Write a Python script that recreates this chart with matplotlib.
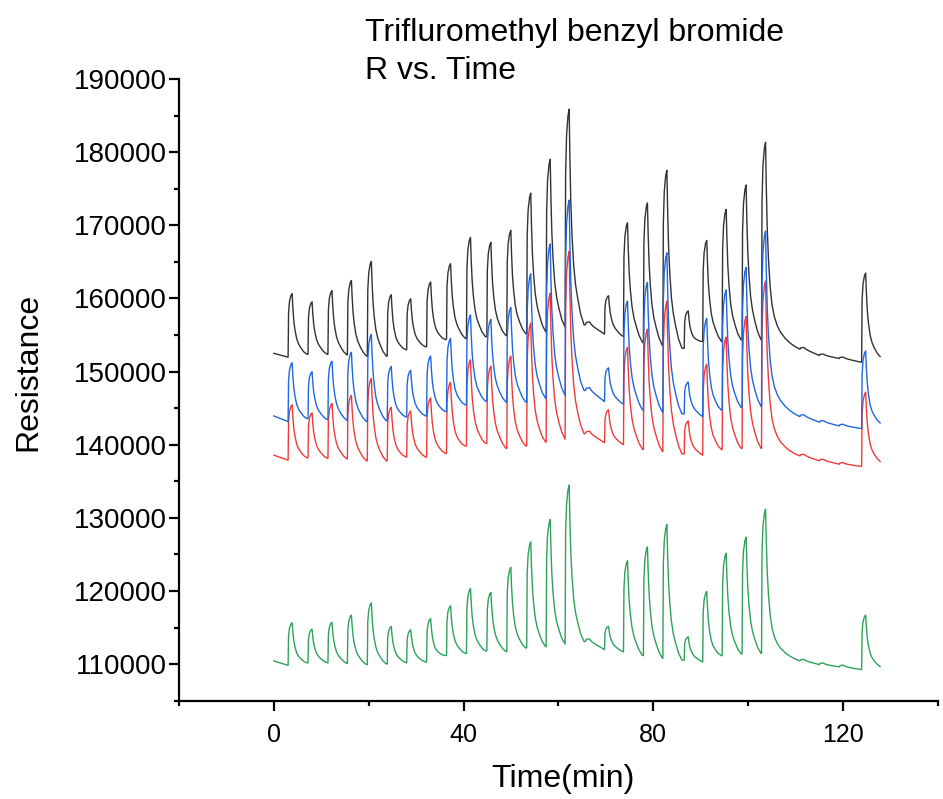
import matplotlib
matplotlib.use("Agg")
import matplotlib.pyplot as plt
from matplotlib.ticker import MultipleLocator, FormatStrFormatter

plt.rcParams['font.family'] = ['Liberation Sans', 'DejaVu Sans']

# pulse onset times (min)
onsets = [3.0, 7.2, 11.4, 15.5, 19.7, 23.9, 28.0, 32.2, 36.4, 40.6,
          44.9, 49.1, 53.3, 57.4, 61.4, 65.7, 69.7, 73.7, 77.9, 82.0,
          86.5, 90.4, 94.5, 98.7, 102.8, 110.9, 115.0, 119.2, 123.9]
t_end = 127.8

# response shape of one pulse (minutes after onset, fraction of peak height)
shape_dt = [0.0, 0.1, 0.3, 0.6, 0.85, 1.0, 1.2, 1.45, 1.8, 2.2, 2.7, 3.3, 4.0]
shape_frac = [0.0, 0.70, 0.88, 0.97, 1.0, 0.78, 0.57, 0.42, 0.28, 0.19, 0.12, 0.05, 0.0]
# same shape with the slow tail seen when no pulse follows for a while
long_dt = [0.0, 0.1, 0.3, 0.6, 0.85, 1.0, 1.2, 1.45, 1.8, 2.2, 2.7, 3.3, 4.0, 5.0, 6.0, 7.0, 8.0]
long_frac = [0.0, 0.70, 0.88, 0.97, 1.0, 0.78, 0.57, 0.42, 0.28, 0.19, 0.13, 0.09, 0.06, 0.035, 0.018, 0.007, 0.0]

# black trace
black_start = 152500
black_troughs = [151970, 152380, 152380, 152280, 152125, 152125, 153000, 153400, 154425, 154530,
                 154785, 154940, 155195, 155450, 156065, 156410, 155130, 154770, 153950, 153540,
                 153180, 154105, 154105, 154360, 154360, 153080, 152210, 151800, 151290]
black_peaks = [160665, 159540, 161070, 162455, 165060, 160510, 159950, 162250, 164755, 168335,
               167670, 169305, 174420, 179025, 185880, 156800, 160380, 170350, 173065, 177525,
               158310, 167940, 172190, 175525, 181365, 153300, 152400, 151980, 163480]
black_end = 152055

# blue trace
blue_start = 143940
blue_troughs = [143175, 143585, 143430, 143330, 143175, 143280, 143790, 143940, 144555, 145475,
                145985, 145835, 145835, 146345, 146755, 147445, 145905, 145550, 144730, 144470,
                144215, 143855, 144730, 145140, 145245, 143855, 143090, 142580, 142220]
blue_peaks = [151205, 149975, 151410, 152635, 155090, 150690, 150180, 152125, 154530, 157750,
              157135, 158770, 163375, 167465, 173450, 147800, 150520, 159640, 162200, 166250,
              148570, 157280, 161175, 164250, 169220, 144100, 143300, 142800, 152825]
blue_end = 142985

# red trace
red_start = 138570
red_troughs = [137905, 138215, 138165, 138060, 137805, 137805, 138320, 138320, 138830, 139850,
               140210, 139495, 139850, 140365, 140770, 141550, 140270, 140015, 139350, 139090,
               138735, 138580, 139350, 139505, 139505, 138475, 137810, 137350, 137045]
red_peaks = [145475, 144350, 145630, 146755, 149055, 145120, 144610, 146395, 148545, 151615,
             150745, 152125, 156625, 160715, 166445, 141850, 144780, 153335, 155795, 159640,
             143245, 151030, 154720, 157540, 162405, 138700, 138020, 137550, 147190]
red_end = 137710

# green trace
green_start = 110445
green_troughs = [109830, 110190, 110190, 110085, 109935, 110035, 110190, 110290, 111210, 111470,
                 111825, 111720, 112235, 112385, 112745, 113115, 111985, 111680, 111165, 110810,
                 110550, 110295, 111165, 111420, 111475, 110450, 109935, 109630, 109270]
green_peaks = [115665, 114800, 115715, 116690, 118375, 115155, 114695, 116230, 117970, 120325,
               119815, 123240, 126720, 129785, 134490, 113450, 115165, 124130, 126030, 129100,
               113730, 119930, 125155, 127360, 131200, 110650, 110150, 109850, 116700]
green_end = 109680


def build_trace(start, troughs, peaks, end):
    t = [0.0]
    v = [start]
    bounds = onsets + [t_end]
    after = troughs[1:] + [end]
    for i, t0 in enumerate(onsets):
        span = bounds[i + 1] - t0
        if span > 6:
            dts, fracs = long_dt, long_frac
        else:
            dts, fracs = shape_dt, shape_frac
        for dt, fr in zip(dts, fracs):
            if dt >= span:
                break
            base = troughs[i] + (after[i] - troughs[i]) * dt / span
            t.append(t0 + dt)
            v.append(base + (peaks[i] - base) * fr)
    t.append(t_end)
    v.append(end)
    return t, v


fig = plt.figure(figsize=(9.43, 7.99), dpi=100)
ax = fig.add_axes([0.1898, 0.123, 0.8049, 0.778])

series = [
    (black_start, black_troughs, black_peaks, black_end, '#333333'),
    (red_start, red_troughs, red_peaks, red_end, '#f03a3a'),
    (blue_start, blue_troughs, blue_peaks, blue_end, '#1f66e0'),
    (green_start, green_troughs, green_peaks, green_end, '#2ea25a'),
]
for s, tr, pk, e, c in series:
    t, v = build_trace(s, tr, pk, e)
    ax.plot(t, v, color=c, lw=1.0)

ax.set_xlim(-20, 140)
ax.set_ylim(105000, 190000)
ax.xaxis.set_major_locator(MultipleLocator(40))
ax.xaxis.set_minor_locator(MultipleLocator(20))
ax.yaxis.set_major_locator(MultipleLocator(10000))
ax.yaxis.set_minor_locator(MultipleLocator(5000))
ax.yaxis.set_major_formatter(FormatStrFormatter('%d'))

for side in ['top', 'right']:
    ax.spines[side].set_visible(False)
for side in ['left', 'bottom']:
    ax.spines[side].set_linewidth(1.6)
ax.tick_params(which='major', length=7, width=1.6)
ax.tick_params(which='minor', length=3.5, width=1.6)
ax.tick_params(axis='x', labelsize=18, pad=9)
ax.tick_params(axis='y', labelsize=20, pad=2)

fig.text(0.387, 1 - 41 / 799, 'Trifluromethyl benzyl bromide', fontsize=23, va='baseline', ha='left')
fig.text(0.387, 1 - 79 / 799, 'R vs. Time', fontsize=23, va='baseline', ha='left')
fig.text(28 / 943, 1 - 372 / 799, 'Resistance', fontsize=23, rotation=90, ha='center', va='center')
fig.text(563 / 943, 1 - 779 / 799, 'Time(min)', fontsize=23, ha='center', va='center')

plt.savefig("out.png", dpi=100)
plt.close()
